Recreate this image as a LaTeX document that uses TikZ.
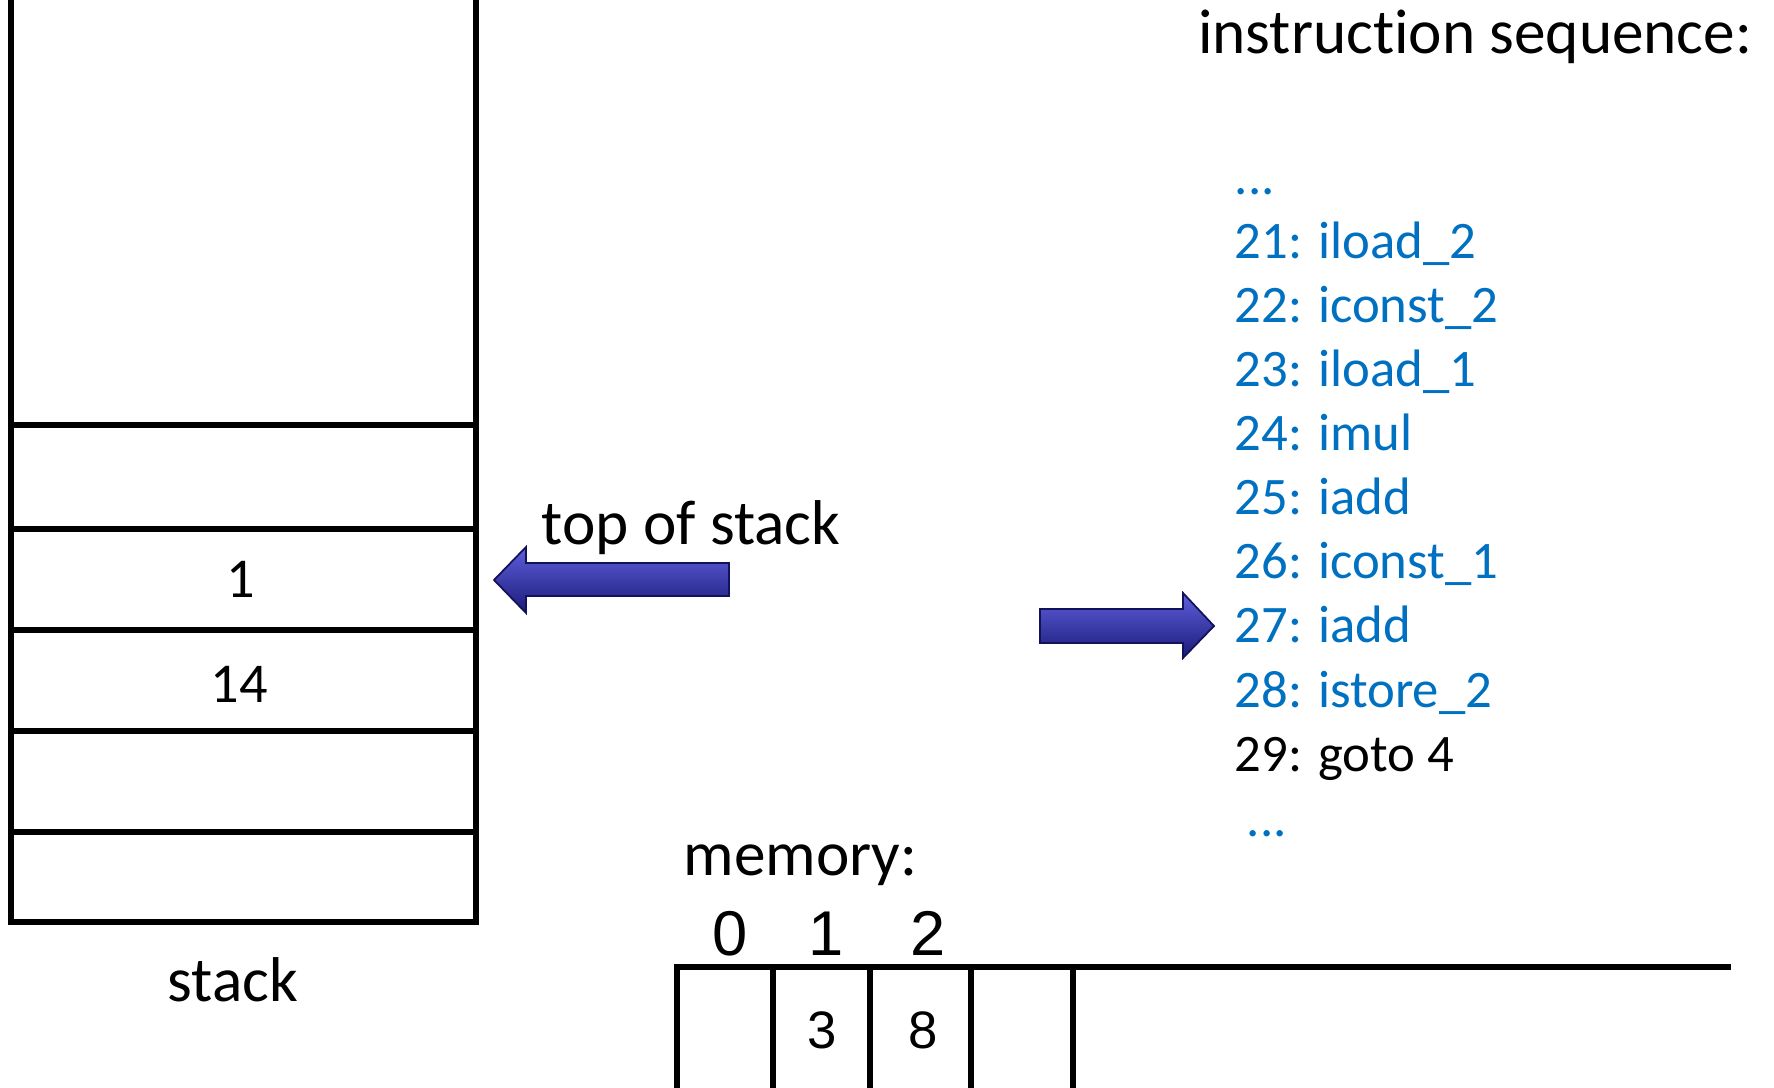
\documentclass[tikz,border=0pt]{standalone}
\usepackage{fontspec}
\setmainfont{Carlito}[Ligatures=NoCommon]
\newfontfamily\arialfont{Liberation Sans}
\definecolor{codeblue}{RGB}{0,112,192}
\definecolor{arrowtop}{RGB}{95,95,220}
\definecolor{arrowblue}{RGB}{38,38,168}
\definecolor{arrowbottom}{RGB}{26,26,120}
\definecolor{arrowdark}{RGB}{18,18,90}
\tikzset{
  frame/.style={line width=1.6pt},
  bigtext/.style={font=\fontsize{18}{21}\selectfont, inner sep=0pt},
  celltext/.style={font=\fontsize{16}{19}\selectfont, inner sep=0pt, anchor=base},
  codetext/.style={font=\fontsize{15}{18}\selectfont, inner sep=0pt, anchor=base west},
  memindex/.style={font=\arialfont\fontsize{18}{21}\selectfont, inner sep=0pt, anchor=base},
  memvalue/.style={font=\arialfont\fontsize{15}{18}\selectfont, inner sep=0pt, anchor=base},
  blockarrow/.style={draw=arrowdark, line width=0.5pt, top color=arrowtop,
    middle color=arrowblue, bottom color=arrowbottom},
}
\begin{document}
\begin{tikzpicture}[x=0.1mm, y=-0.1mm]
    \useasboundingbox (0,0) rectangle (1774,1088);

    \draw[frame] (11,0)--(11,922)--(476,922)--(476,0);
    \foreach \y in {425,529,630,731,832}
        \draw[frame] (11,\y)--(476,\y);
    \node[celltext] (cellone) at (241,598) {1};
    \node[celltext] (cellfourteen) at (239,703) {14};
    \node[bigtext, anchor=base] (stacklabel) at (233,1001) {stack};

    \node[bigtext, anchor=base west] (topofstack) at (541,545) {top of stack};
    \draw[blockarrow] (494,580)--(526,547)--(526,563)--(729,563)--(729,596)--(526,596)--(526,613)--cycle;

    \node[bigtext, anchor=base east] (title) at (1753,54) {instruc\kern0pt tion sequence:};
    \node[codetext, text=codeblue] (dotstop) at (1234,195) {...};
    \foreach \n/\op [count=\i] in {21/iload\_2, 22/iconst\_2, 23/iload\_1, 24/imul,
        25/iadd, 26/iconst\_1, 27/iadd, 28/istore\_2}
        \node[codetext, text=codeblue] (ins\n) at (1234,{195+64*\i}) {\n: \op};
    \node[codetext] (ins29) at (1234,771) {29: goto 4};
    \node[codetext, text=codeblue] (dotsbottom) at (1246,836) {...};
    \draw[blockarrow] (1214,626)--(1183,593)--(1183,609)--(1040,609)--(1040,643)--(1183,643)--(1183,658)--cycle;

    \node[bigtext, anchor=base west] (memlabel) at (683,875) {memory:};
    \draw[frame] (677,1088)--(677,967)--(1731,967);
    \foreach \x in {773,870,971,1073}
        \draw[frame] (\x,967)--(\x,1088);
    \foreach \x/\t in {730/0, 826/1, 928/2}
        \node[memindex] (idx\t) at (\x,955) {\t};
    \node[memvalue] (memone) at (822,1048) {3};
    \node[memvalue] (memtwo) at (923,1048) {8};

\end{tikzpicture}
\end{document}
